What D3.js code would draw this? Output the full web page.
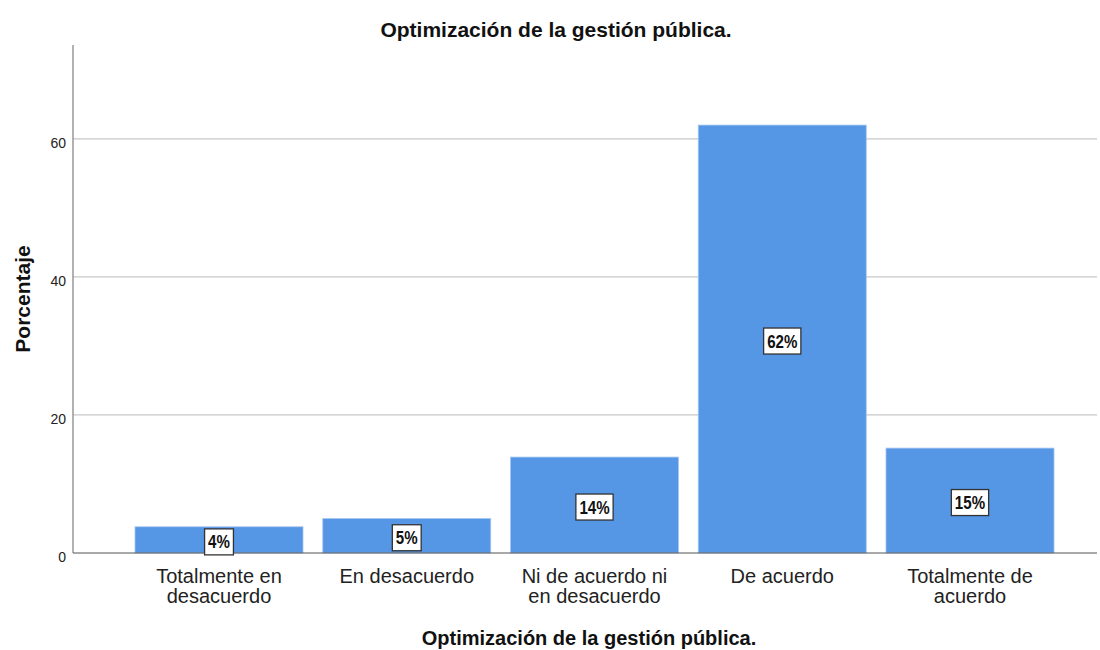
<!DOCTYPE html>
<html>
<head>
<meta charset="utf-8">
<script src="https://cdn.jsdelivr.net/npm/d3@7"></script>
<style>
  body { margin: 0; background: #fff; }
  svg { display: block; }
</style>
</head>
<body>
<svg id="chart" width="1100" height="650"></svg>
<script>
const categories = [
  ["Totalmente en", "desacuerdo"],
  ["En desacuerdo"],
  ["Ni de acuerdo ni", "en desacuerdo"],
  ["De acuerdo"],
  ["Totalmente de", "acuerdo"]
];
const values = [3.8, 5.0, 13.9, 62.0, 15.2];
const valueLabels = ["4%", "5%", "14%", "62%", "15%"];
const yTicks = [0, 20, 40, 60];
const title = "Optimización de la gestión pública.";
const xTitle = "Optimización de la gestión pública.";
const yTitle = "Porcentaje";

(function () {
const svg = d3.select("#chart");
const pLeft = 73, pRight = 1097, pTop = 45, pBottom = 553;
const FONT = "Arial, 'Liberation Sans', sans-serif";

const x = d3.scaleBand()
  .domain(d3.range(categories.length))
  .range([125.6, 1063.4])
  .paddingInner(0.105)
  .paddingOuter(0.05);

const y = d3.scaleLinear().domain([0, 73.6]).range([pBottom, pTop]);

// gridlines
svg.append("g").selectAll("line").data(yTicks.filter(d => d > 0)).join("line")
  .attr("x1", pLeft).attr("x2", pRight)
  .attr("y1", d => y(d)).attr("y2", d => y(d))
  .attr("stroke", "#c8c8c8").attr("stroke-width", 1.2);

// y axis
const yAxis = d3.axisLeft(y).tickValues(yTicks).tickSize(0).tickPadding(7).tickFormat(d3.format("d"));
const ya = svg.append("g").attr("transform", `translate(${pLeft},0)`).call(yAxis);
ya.select(".domain").remove();
ya.selectAll("text").attr("font-family", FONT)
  .attr("font-size", 14).attr("fill", "#222").attr("dy", "0.62em");
svg.append("line").attr("x1", pLeft).attr("x2", pLeft).attr("y1", pTop).attr("y2", pBottom)
  .attr("stroke", "#888").attr("stroke-width", 1.3);

// bars
svg.append("g").selectAll("rect").data(values).join("rect")
  .attr("x", (d, i) => x(i))
  .attr("width", x.bandwidth())
  .attr("y", d => y(d))
  .attr("height", d => y(0) - y(d))
  .attr("fill", "#5596e5")
  .attr("stroke", "#a9c8f0").attr("stroke-width", 0.8);

// baseline
svg.append("line").attr("x1", pLeft).attr("x2", pRight).attr("y1", pBottom).attr("y2", pBottom)
  .attr("stroke", "#555").attr("stroke-width", 1.2);

// value labels
const lab = svg.append("g").selectAll("g").data(values).join("g")
  .attr("transform", (d, i) => `translate(${x(i) + x.bandwidth() / 2},${(y(d) + y(0)) / 2 + 2})`);
const boxes = lab.append("rect")
  .attr("y", -13).attr("height", 26)
  .attr("fill", "#fff").attr("stroke", "#333").attr("stroke-width", 1.3);
const texts = lab.append("text")
  .attr("text-anchor", "middle").attr("dy", "0.36em")
  .attr("transform", "scale(0.84,1)")
  .attr("font-family", FONT)
  .attr("font-weight", "bold").attr("font-size", 18).attr("fill", "#111")
  .text((d, i) => valueLabels[i]);
texts.each(function (d, i) {
  const w = this.getComputedTextLength() * 0.84;
  d3.select(boxes.nodes()[i]).attr("x", -w / 2 - 3.5).attr("width", w + 7);
});

// category labels
const cat = svg.append("g").selectAll("text").data(categories).join("text")
  .attr("text-anchor", "middle")
  .attr("font-family", FONT)
  .attr("font-size", 20).attr("fill", "#222")
  .attr("transform", (d, i) => `translate(${x(i) + x.bandwidth() / 2},583)`);
cat.selectAll("tspan").data(d => d).join("tspan")
  .attr("x", 0).attr("dy", (d, j) => j === 0 ? 0 : 20).text(d => d);

// titles
svg.append("text").attr("x", 556).attr("y", 37).attr("text-anchor", "middle")
  .attr("font-family", FONT)
  .attr("font-weight", "bold").attr("font-size", 21).attr("fill", "#111").text(title);
svg.append("text").attr("x", 589).attr("y", 645).attr("text-anchor", "middle")
  .attr("font-family", FONT)
  .attr("font-weight", "bold").attr("font-size", 20).attr("fill", "#111").text(xTitle);
svg.append("text").attr("transform", "translate(30,299) rotate(-90)").attr("text-anchor", "middle")
  .attr("font-family", FONT)
  .attr("font-weight", "bold").attr("font-size", 21).attr("fill", "#111").text(yTitle);
})();
</script>
</body>
</html>
